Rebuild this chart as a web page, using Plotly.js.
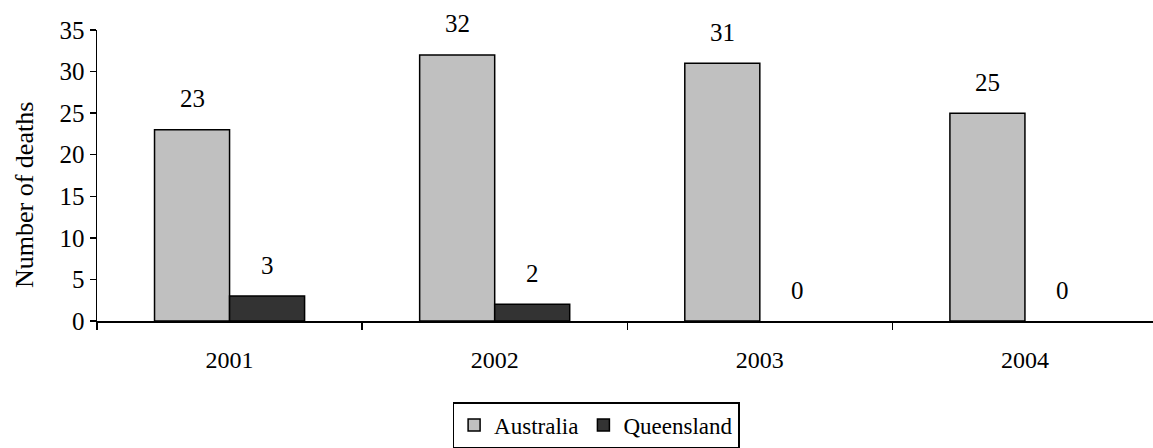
<!DOCTYPE html>
<html>
<head>
<meta charset="utf-8">
<script src="https://cdn.plot.ly/plotly-3.0.1.min.js"></script>
<style>
  html, body { margin: 0; padding: 0; background: #fff; overflow: hidden; }
  #chart { width: 1153px; height: 448px; }
</style>
</head>
<body>
<div id="chart"></div>
<script>
// Deaths per year, Australia vs Queensland
const years = ['2001', '2002', '2003', '2004'];
const australia = [23, 32, 31, 25];
const queensland = [3, 2, 0, 0];
const yTitle = 'Number of deaths';

const FONT = '"Liberation Serif", "Times New Roman", Times, serif';

// zero-valued bars get no outline so nothing is drawn over the axis
const outline = vals => vals.map(v => (v === 0 ? 0 : 1.5));

const traces = [
  {
    type: 'bar', name: 'Australia', x: years, y: australia,
    marker: { color: '#c0c0c0', line: { color: '#000', width: outline(australia) } },
    offsetgroup: 'a'
  },
  {
    type: 'bar', name: 'Queensland', x: years, y: queensland,
    marker: { color: '#333333', line: { color: '#000', width: outline(queensland) } },
    offsetgroup: 'q'
  }
];

// Value labels above each bar
const annotations = [];
const groupShift = 0.1415;
years.forEach((yr, i) => {
  annotations.push({ x: i - groupShift, y: australia[i], xref: 'x', yref: 'y',
    text: String(australia[i]), showarrow: false, yanchor: 'middle', yshift: 31,
    font: { family: FONT, size: 25, color: '#000' } });
  annotations.push({ x: i + groupShift, y: queensland[i], xref: 'x', yref: 'y',
    text: String(queensland[i]), showarrow: false, yanchor: 'middle', yshift: 31,
    font: { family: FONT, size: 25, color: '#000' } });
});

// y-axis title, sitting a little below the plot's vertical centre
annotations.push({ xref: 'paper', yref: 'paper', x: 0, y: 0.433, xshift: -72,
  xanchor: 'center', yanchor: 'middle', textangle: -90, showarrow: false,
  text: yTitle, font: { family: FONT, size: 26, color: '#000' } });

const layout = {
  width: 1153, height: 448,
  margin: { l: 97, r: 0, t: 30, b: 127 },
  paper_bgcolor: '#fff', plot_bgcolor: '#fff',
  font: { family: FONT, size: 25, color: '#000' },
  barmode: 'group',
  bargap: 0.434,
  bargroupgap: 0,
  xaxis: {
    type: 'category',
    range: [-0.5, 3.483],
    tickson: 'boundaries',
    ticks: 'outside', ticklen: 7, tickwidth: 1.5, tickcolor: '#000',
    showline: true, linecolor: '#000', linewidth: 1.5,
    showgrid: false, zeroline: false,
    tickfont: { family: FONT, size: 24, color: '#000' },
    ticklabelstandoff: 17
  },
  yaxis: {
    range: [0, 35], dtick: 5,
    ticks: 'outside', ticklen: 6, tickwidth: 1.5, tickcolor: '#000',
    showline: true, linecolor: '#000', linewidth: 1.5,
    showgrid: false, zeroline: false,
    tickfont: { family: FONT, size: 25, color: '#000' }
  },
  showlegend: true,
  legend: {
    orientation: 'h',
    xref: 'container', yref: 'container',
    x: 0.517, xanchor: 'center',
    y: 0.0, yanchor: 'bottom',
    bordercolor: '#000', borderwidth: 1.5,
    font: { family: FONT, size: 23, color: '#000' },
    itemwidth: 30, tracegroupgap: 0
  },
  annotations: annotations
};

Plotly.newPlot('chart', traces, layout, { displayModeBar: false, staticPlot: true });
</script>
</body>
</html>
